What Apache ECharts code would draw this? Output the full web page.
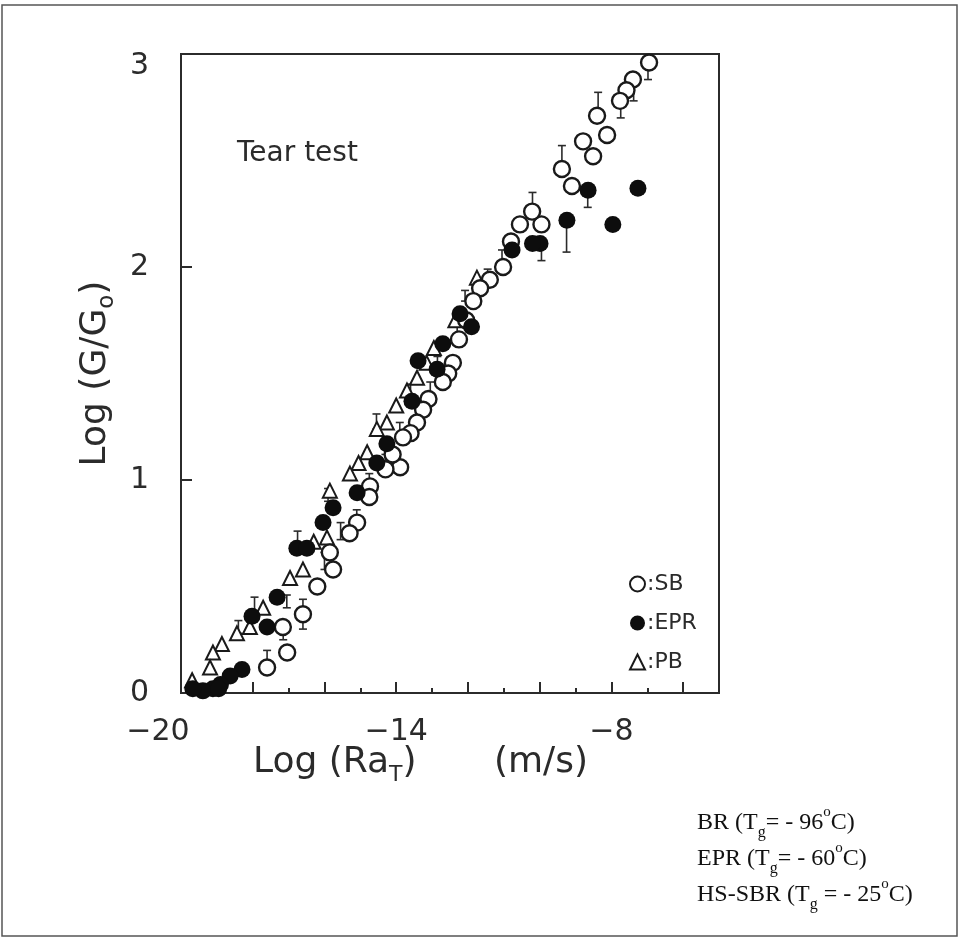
<!DOCTYPE html>
<html><head><meta charset="utf-8">
<script src="https://cdn.jsdelivr.net/npm/echarts/dist/echarts.min.js"></script>
<style>html,body{margin:0;padding:0;background:#fff}#c{width:960px;height:940px}</style>
</head><body><div id="c"></div>
<script>
// ---- data ----
const xTickLabels = [-20, -14, -8];
const yTickLabels = [0, 1, 2, 3];
const seriesNames = ['SB', 'EPR', 'PB'];
// open circles : SB
const sbData = [
  [-6.95, 2.96], [-7.40, 2.88], [-7.58, 2.83], [-7.76, 2.78], [-8.12, 2.62], [-8.40, 2.71],
  [-8.79, 2.59], [-8.51, 2.52], [-9.38, 2.46], [-9.10, 2.38], [-9.95, 2.20], [-10.21, 2.26],
  [-10.55, 2.20], [-10.80, 2.12], [-11.02, 2.00], [-11.39, 1.94], [-11.66, 1.90], [-11.85, 1.84],
  [-12.05, 1.75], [-12.25, 1.66], [-12.42, 1.55], [-12.55, 1.50], [-12.70, 1.46], [-13.10, 1.38],
  [-13.25, 1.33], [-13.42, 1.27], [-13.60, 1.22], [-13.81, 1.20], [-13.89, 1.06], [-14.10, 1.12],
  [-14.30, 1.05], [-14.73, 0.97], [-14.75, 0.92], [-15.09, 0.80], [-15.30, 0.75], [-15.85, 0.66],
  [-15.76, 0.58], [-16.20, 0.50], [-16.60, 0.37], [-17.16, 0.31], [-17.04, 0.19], [-17.60, 0.12]
];
// filled circles : EPR
const eprData = [
  [-7.26, 2.37], [-8.65, 2.36], [-7.96, 2.20], [-9.24, 2.22], [-9.99, 2.11], [-10.20, 2.11],
  [-10.77, 2.08], [-12.22, 1.78], [-11.90, 1.72], [-12.70, 1.64], [-13.39, 1.56], [-12.86, 1.52],
  [-13.56, 1.37], [-14.26, 1.17], [-14.54, 1.08], [-15.09, 0.94], [-15.76, 0.87], [-16.04, 0.80],
  [-16.77, 0.68], [-16.49, 0.68], [-17.32, 0.45], [-18.02, 0.36], [-17.60, 0.31], [-18.30, 0.11],
  [-18.63, 0.08], [-18.90, 0.04], [-19.11, 0.02], [-19.39, 0.01], [-19.67, 0.02], [-18.95, 0.02]
];
// open triangles : PB
const pbData = [
  [-13.42, 1.48], [-13.70, 1.42], [-14.00, 1.35], [-14.26, 1.27], [-14.54, 1.24], [-14.81, 1.13],
  [-15.05, 1.08], [-15.29, 1.03], [-15.85, 0.95], [-15.93, 0.73], [-16.30, 0.71], [-16.60, 0.58],
  [-16.96, 0.54], [-17.71, 0.40], [-18.08, 0.31], [-18.44, 0.28], [-18.86, 0.23], [-19.11, 0.19],
  [-19.19, 0.12], [-19.69, 0.06], [-13.15, 1.55], [-12.95, 1.62], [-12.35, 1.75], [-11.75, 1.95]
];
// error bars : [x, low, high]
const errBars = [
  [-6.98, 2.88, 2.96], [-7.38, 2.78, 2.87], [-7.74, 2.70, 2.77], [-8.37, 2.72, 2.82],
  [-9.38, 2.46, 2.57], [-8.66, 2.28, 2.36], [-9.25, 2.07, 2.19], [-10.20, 2.26, 2.35],
  [-9.95, 2.03, 2.11], [-11.05, 2.00, 2.08], [-12.30, 1.66, 1.74], [-13.60, 1.37, 1.45],
  [-14.30, 1.05, 1.12], [-15.10, 0.80, 0.86], [-16.00, 0.58, 0.66], [-17.05, 0.40, 0.46],
  [-17.60, 0.12, 0.20], [-17.15, 0.25, 0.31], [-16.60, 0.37, 0.44], [-18.40, 0.28, 0.34],
  [-12.08, 1.84, 1.89], [-11.45, 1.94, 1.99], [-13.05, 1.38, 1.46], [-13.90, 1.20, 1.27],
  [-14.75, 0.97, 1.03], [-15.55, 0.72, 0.80], [-16.75, 0.68, 0.76], [-17.95, 0.36, 0.45],
  [-16.60, 0.30, 0.37], [-15.90, 0.90, 0.96], [-14.55, 1.24, 1.31], [-12.85, 1.52, 1.58]
];

const chart = echarts.init(document.getElementById('c'), null, {renderer: 'canvas'});
const ink = '#2b2b2b';
const sans = 'DejaVu Sans';
const serif = 'Liberation Serif';

const annoRich = {
  sub: {fontSize: 16, lineHeight: 16, verticalAlign: 'bottom', fontFamily: serif, fill: '#111', color: '#111'},
  sup: {fontSize: 15, lineHeight: 26, verticalAlign: 'top', fontFamily: serif, fill: '#111', color: '#111'}
};
function annoText(txt, top) {
  return {
    type: 'text', left: 697, top: top, z: 10,
    style: {text: txt, rich: annoRich, fontFamily: serif, fontSize: 24, lineHeight: 36, fill: '#111'}
  };
}

const option = {
  backgroundColor: '#fff',
  animation: false,
  grid: {left: 181, top: 54, width: 538, height: 639, show: true, borderColor: ink, borderWidth: 2, backgroundColor: 'transparent'},
  xAxis: [
    {
      type: 'value', min: -20, max: -5, interval: 2, position: 'bottom',
      axisLine: {show: true, lineStyle: {color: ink, width: 2}},
      axisTick: {show: true, inside: true, length: 11, lineStyle: {color: ink, width: 2}},
      splitLine: {show: false},
      axisLabel: {
        margin: 24, fontSize: 30, fontFamily: sans, color: ink,
        formatter: v => {
          if (!xTickLabels.includes(v)) return '';
          const s = String(v).replace('-', '\u2212');
          return v === -20 ? '{l|' + s + '}' : s;
        },
        rich: {l: {fontSize: 30, fontFamily: sans, color: ink, padding: [0, 46, 0, 0]}}
      }
    },
    {
      type: 'value', min: -20, max: -5, interval: 1, position: 'bottom',
      axisLine: {show: false},
      axisTick: {show: true, inside: true, length: 5, lineStyle: {color: ink, width: 2}},
      axisLabel: {show: false}, splitLine: {show: false}
    }
  ],
  yAxis: {
    type: 'value', min: 0, max: 3, interval: 1,
    axisLine: {show: true, lineStyle: {color: ink, width: 2}},
    axisTick: {show: true, inside: true, length: 11, lineStyle: {color: ink, width: 2}},
    splitLine: {show: false},
    axisLabel: {
      margin: 32, fontSize: 30, fontFamily: sans, color: ink,
      formatter: v => yTickLabels.includes(v) ? (v === 3 ? '{t|3}' : String(v)) : '',
      rich: {t: {fontSize: 30, fontFamily: sans, color: ink, padding: [24, 0, 0, 0]}}
    },
    name: 'Log (G/G{s|o})', nameLocation: 'middle', nameGap: 42, nameRotate: 90,
    nameTextStyle: {fontSize: 36, fontFamily: sans, color: ink, lineHeight: 46,
      rich: {s: {fontSize: 23, lineHeight: 23, verticalAlign: 'bottom', fontFamily: sans, color: ink}}}
  },
  legend: {
    orient: 'vertical', left: 624, top: 568, itemGap: 17, itemWidth: 15, itemHeight: 15,
    data: seriesNames, formatter: n => ':' + n,
    textStyle: {fontSize: 22, fontFamily: sans, color: ink, padding: [0, 0, 0, -3]},
    selectedMode: false
  },
  graphic: [
    {type: 'rect', shape: {x: 2, y: 5, width: 955, height: 931}, style: {fill: 'none', stroke: '#555', lineWidth: 1.5}, silent: true},
    {type: 'text', left: 237, top: 140, style: {text: 'Tear test', fontFamily: sans, fontSize: 28, fill: ink}},
    {type: 'text', left: 253, top: 740, style: {
      text: 'Log (Ra{s|T})', fontFamily: sans, fontSize: 36, lineHeight: 46, fill: ink,
      rich: {s: {fontSize: 22, lineHeight: 22, verticalAlign: 'bottom', fontFamily: sans, fill: ink, color: ink}}
    }},
    {type: 'text', left: 494, top: 740, style: {text: '(m/s)', fontFamily: sans, fontSize: 36, lineHeight: 46, fill: ink}},
    annoText('BR (T{sub|g}= - 96{sup|o}C)', 805),
    annoText('EPR (T{sub|g}= - 60{sup|o}C)', 841),
    annoText('HS-SBR (T{sub|g} = - 25{sup|o}C)', 877)
  ],
  series: [
    {
      type: 'custom', name: 'err', xAxisIndex: 0, yAxisIndex: 0, z: 1, silent: true,
      encode: {x: 0, y: [1, 2]},
      renderItem: (params, api) => {
        const x = api.value(0), lo = api.value(1), hi = api.value(2);
        const a = api.coord([x, lo]), b = api.coord([x, hi]);
        const w = 4, st = {stroke: ink, lineWidth: 1.6};
        return {type: 'group', children: [
          {type: 'line', shape: {x1: a[0], y1: a[1], x2: b[0], y2: b[1]}, style: st},
          {type: 'line', shape: {x1: a[0] - w, y1: a[1], x2: a[0] + w, y2: a[1]}, style: st},
          {type: 'line', shape: {x1: b[0] - w, y1: b[1], x2: b[0] + w, y2: b[1]}, style: st}
        ]};
      },
      data: errBars
    },
    {
      type: 'scatter', name: 'PB', data: pbData, symbol: 'triangle', symbolSize: 14, z: 2,
      itemStyle: {color: '#fff', borderColor: '#1a1a1a', borderWidth: 2, opacity: 1}
    },
    {
      type: 'scatter', name: 'SB', data: sbData, symbol: 'circle', symbolSize: 16, z: 3,
      itemStyle: {color: '#fff', borderColor: '#1a1a1a', borderWidth: 2.4, opacity: 1}
    },
    {
      type: 'scatter', name: 'EPR', data: eprData, symbol: 'circle', symbolSize: 17, z: 4,
      itemStyle: {color: '#0d0d0d', borderColor: '#0d0d0d', borderWidth: 0, opacity: 1}
    }
  ]
};
chart.setOption(option);
</script>
</body></html>
